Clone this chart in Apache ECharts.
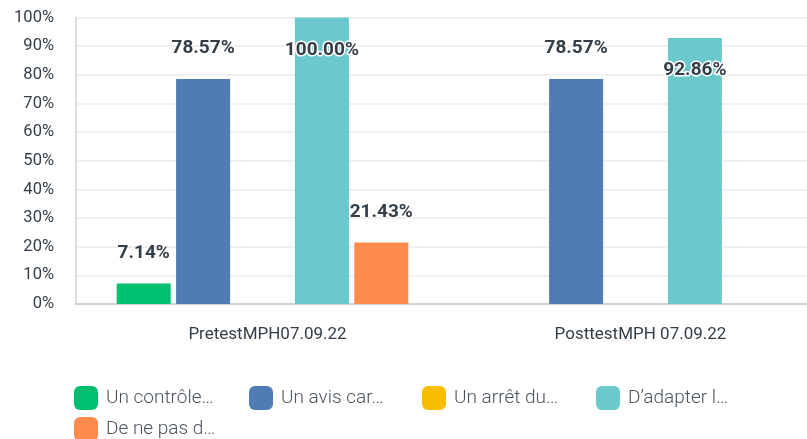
<!DOCTYPE html>
<html>
<head>
<meta charset="utf-8">
<script src="https://cdn.jsdelivr.net/npm/echarts@6/dist/echarts.min.js"></script>
<style>
  html, body { margin: 0; padding: 0; background: #fff; overflow: hidden; }
  /* canvas is a bit wider than the window: the plot runs past the right edge */
  #chart { width: 822px; height: 439px; }
</style>
</head>
<body>
<div id="chart"></div>
<script>
const categories = ["PretestMPH07.09.22", "PosttestMPH 07.09.22"];
const seriesNames = ["Un contrôle…", "Un avis car…", "Un arrêt du…", "D’adapter l…", "De ne pas d…"];
const controle = [7.14, 0];
const avis = [78.57, 78.57];
const arret = [0, 0];
const adapter = [100, 92.86];
const nePas = [21.43, 0];
const yTicks = [0, 10, 20, 30, 40, 50, 60, 70, 80, 90, 100];

const colors = ["#00BF6F", "#507CB6", "#F9BE00", "#6BC8CD", "#FF8B4F"];
const textColor = "#333E48";
const font = "Roboto, 'Noto Sans', sans-serif";

// legend slots (fixed width items, last one wraps)
const legendLeft = [74, 249, 422, 596, 74];
const legendTop = [386, 386, 386, 386, 417];

// label goes inside the bar when there is no room above it
function toItems(values) {
  return values.map(function (v) {
    if (v > 85) {
      return {
        value: v,
        label: {
          position: "insideTop",
          distance: 23,
          textBorderColor: "#fff",
          textBorderWidth: 3
        }
      };
    }
    return { value: v };
  });
}

const seriesValues = [controle, avis, arret, adapter, nePas];

const chart = echarts.init(document.getElementById("chart"));
chart.setOption({
  animation: false,
  color: colors,
  grid: { left: 76, right: 0, top: 17.5, bottom: 135, containLabel: false },
  legend: seriesNames.map(function (name, i) {
    return {
      left: legendLeft[i],
      top: legendTop[i],
      padding: 0,
      itemWidth: 24,
      itemHeight: 24,
      icon: "roundRect",
      data: [name],
      textStyle: {
        color: "#4A545E",
        fontSize: 19,
        fontFamily: font,
        fontWeight: 300,
        padding: [0, 0, 0, 3]
      }
    };
  }),
  xAxis: {
    type: "category",
    data: categories,
    axisLine: { lineStyle: { color: "#C8C8C8", width: 1.5 } },
    axisTick: { show: false },
    axisLabel: {
      color: textColor,
      fontSize: 17,
      fontFamily: font,
      margin: 22,
      padding: [0, 0, 0, 10]
    }
  },
  yAxis: {
    type: "value",
    min: 0,
    max: 100,
    interval: 10,
    axisLine: { show: true, lineStyle: { color: "#D0D0D0", width: 1.5 } },
    axisTick: { show: false },
    splitLine: { lineStyle: { color: "#EBEBEB", width: 1.5 } },
    axisLabel: {
      color: textColor,
      fontSize: 16.5,
      fontFamily: font,
      margin: 22,
      formatter: function (v) {
        return yTicks.indexOf(v) >= 0 ? v + "%" : "";
      }
    }
  },
  series: seriesNames.map(function (name, i) {
    return {
      name: name,
      type: "bar",
      barWidth: 54,
      barGap: "10%",
      data: toItems(seriesValues[i]),
      label: {
        show: true,
        position: "top",
        distance: 21,
        color: textColor,
        fontSize: 19,
        fontWeight: "bold",
        fontFamily: font,
        formatter: function (p) {
          return p.value > 0 ? p.value.toFixed(2) + "%" : "";
        }
      }
    };
  })
});
</script>
</body>
</html>
